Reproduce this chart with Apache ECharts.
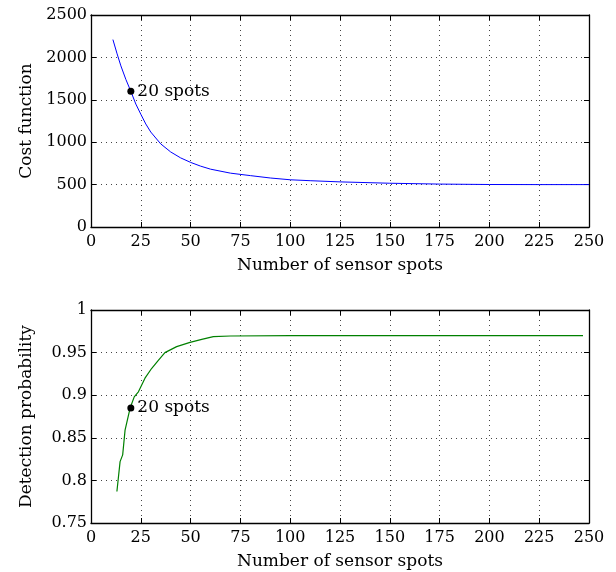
<!DOCTYPE html>
<html>
<head>
<meta charset="utf-8">
<script src="https://cdn.jsdelivr.net/npm/echarts@6/dist/echarts.min.js"></script>
<style>html,body{margin:0;padding:0;background:#fff}#c{width:616px;height:572px}</style>
</head>
<body>
<div id="c"></div>
<script>
// Top panel: cost function vs number of sensor spots
var costX = [11, 13, 15, 17.5, 20, 22.5, 25, 27.5, 30, 35, 40, 45, 50, 55, 60, 70, 80, 90, 100, 110, 125, 150, 175, 200, 225, 250];
var costY = [2210, 2050, 1900, 1740, 1600, 1450, 1330, 1215, 1120, 980, 885, 815, 762, 718, 682, 635, 606, 578, 557, 546, 532, 516, 506, 501, 500, 500];
// Bottom panel: detection probability vs number of sensor spots
var probX = [13, 14.6, 15.9, 17.1, 19.6, 21.7, 23.8, 27.1, 30.5, 33.8, 37.1, 43, 49.7, 55.6, 61.4, 70, 100, 150, 200, 247];
var probY = [0.787, 0.822, 0.83, 0.859, 0.8846, 0.898, 0.904, 0.92, 0.9316, 0.941, 0.95, 0.957, 0.962, 0.9656, 0.9687, 0.9695, 0.97, 0.97, 0.97, 0.97];
// Highlighted points
var costMark = [20, 1600];
var probMark = [20, 0.885];
var markLabel = '20 spots';
var xTicks = [0, 250, 25];
var costTicks = [0, 2500, 500];
var probTicks = [0.75, 1, 0.05];
var xName = 'Number of sensor spots';
var costName = 'Cost function';
var probName = 'Detection probability';

var FONT = 'DejaVu Serif';
var txt = {fontFamily: FONT, fontSize: 16, color: '#000'};
var txtBig = {fontFamily: FONT, fontSize: 17, color: '#000'};
function pair(a, b) { return a.map(function (v, i) { return [v, b[i]]; }); }
var gridLine = {show: true, lineStyle: {color: '#444', width: 1, type: [1, 4]}};
var axLine = {show: true, onZero: false, lineStyle: {color: '#000', width: 1.3}};
var tick = {show: true, inside: true, length: 5, lineStyle: {color: '#000', width: 1}};
function fmt(v) { return String(Math.round(v * 100) / 100); }

function xAx(grid, pos, main) {
  return {
    type: 'value', gridIndex: grid, position: pos, min: xTicks[0], max: xTicks[1], interval: xTicks[2],
    axisLine: axLine, axisTick: tick,
    axisLabel: main ? Object.assign({show: true, margin: 7, formatter: fmt}, txt) : {show: false},
    splitLine: main ? gridLine : {show: false},
    name: main ? xName : '', nameLocation: 'middle', nameGap: 30, nameTextStyle: txtBig
  };
}
function yAx(grid, pos, main, t, name) {
  return {
    type: 'value', gridIndex: grid, position: pos, min: t[0], max: t[1], interval: t[2],
    axisLine: axLine, axisTick: tick,
    axisLabel: main ? Object.assign({show: true, margin: 4, formatter: fmt}, txt) : {show: false},
    splitLine: main ? gridLine : {show: false},
    name: main ? name : '', nameLocation: 'middle', nameGap: 56, nameTextStyle: txtBig
  };
}
function markSeries(xi, yi, p) {
  return {
    type: 'scatter', xAxisIndex: xi, yAxisIndex: yi, data: [p], symbol: 'circle', symbolSize: 7,
    itemStyle: {color: '#000', opacity: 1}, z: 5,
    label: Object.assign({show: true, position: 'right', distance: 3, formatter: markLabel}, txtBig)
  };
}

var chart = echarts.init(document.getElementById('c'), null, {renderer: 'canvas'});
chart.setOption({
  animation: false,
  backgroundColor: '#fff',
  grid: [
    {left: 91, right: 27, top: 15, height: 212},
    {left: 91, right: 27, top: 310, height: 213}
  ],
  xAxis: [xAx(0, 'bottom', true), xAx(0, 'top', false), xAx(1, 'bottom', true), xAx(1, 'top', false)],
  yAxis: [yAx(0, 'left', true, costTicks, costName), yAx(0, 'right', false, costTicks, ''),
          yAx(1, 'left', true, probTicks, probName), yAx(1, 'right', false, probTicks, '')],
  series: [
    {type: 'line', xAxisIndex: 0, yAxisIndex: 0, data: pair(costX, costY), showSymbol: false,
     lineStyle: {color: '#0000ff', width: 1}},
    {type: 'line', xAxisIndex: 2, yAxisIndex: 2, data: pair(probX, probY), showSymbol: false,
     lineStyle: {color: '#008000', width: 1.2}},
    markSeries(0, 0, costMark),
    markSeries(2, 2, probMark)
  ]
});
</script>
</body>
</html>
